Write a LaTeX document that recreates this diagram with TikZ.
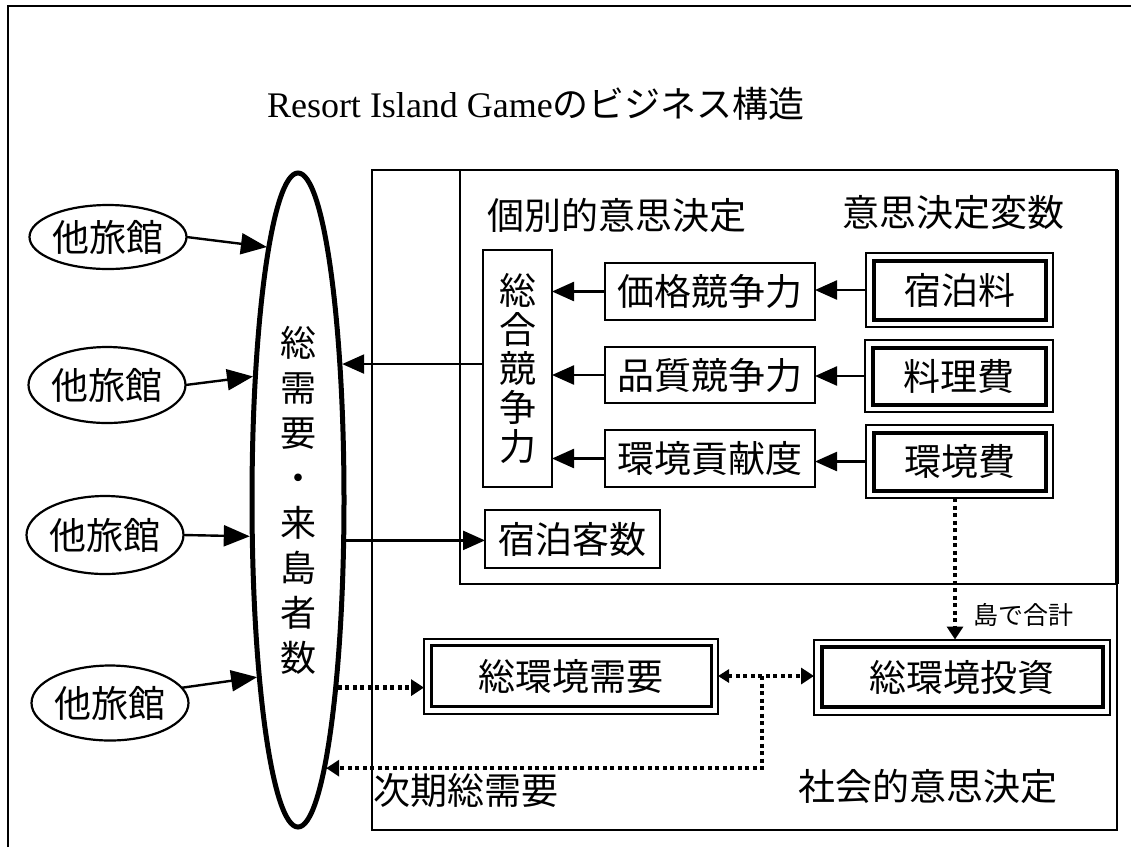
\documentclass[tikz,border=0pt]{standalone}
\usepackage{fontspec}
\setmainfont{Liberation Serif}
\newfontfamily\jp{Noto Sans CJK JP}
\usetikzlibrary{shapes.geometric,arrows.meta}
\begin{document}
\begin{tikzpicture}[x=1pt,y=1pt,
  every node/.style={inner sep=0pt, outer sep=0pt},
  jpf/.style={font=\jp\fontsize{37}{39}\selectfont},
  lbl/.style={jpf, anchor=west},
  sbox/.style={draw, line width=2.4pt, jpf, minimum width=210pt, minimum height=57pt},
  dbox/.style={draw, line width=2pt, jpf},
  other/.style={ellipse, draw, line width=2.2pt, jpf, minimum width=148pt, minimum height=74pt},
  arr/.style={line width=2.4pt, -{Triangle[length=22pt,width=19pt]}},
  oarr/.style={line width=2.4pt, -{Triangle[length=26pt,width=21pt]}},
  dl/.style={line width=4.2pt, dash pattern=on 4pt off 3.5pt},
  darr/.style={dl, -{Triangle[length=13pt,width=16pt]}},
]
\useasboundingbox (0,0) rectangle (1131,-847);
% frame
\draw[line width=2.4pt] (8,-847) -- (8,-6) -- (1131,-6);
% title
\node[anchor=west, font=\fontsize{36}{40}\selectfont] (title) at (267,-104) {Resort Island Game{\jp のビジネス構造}};
% big box and inner box
\draw[line width=2.4pt] (372,-170) rectangle (1117,-830);
\draw[line width=2.4pt] (460,-170) -- (460,-584) -- (1117,-584);
\draw[line width=4.5pt] (1117,-170) -- (1117,-584);
% labels
\node[lbl] (indiv) at (487,-215) {個別的意思決定};
\node[lbl] (vars) at (842,-213) {意思決定変数};
\node[lbl] (next) at (373,-790) {次期総需要};
\node[lbl] (social) at (798,-786) {社会的意思決定};
% main ellipse
\node[ellipse, draw, line width=5pt, outer sep=2.5pt, minimum width=92pt, minimum height=654pt,
  font=\jp\fontsize{36}{45}\selectfont, align=center] (main) at (298,-500)
  {総\\需\\要\\・\\来\\島\\者\\数};
% other inns
\node[other, minimum height=64pt] (o1) at (108,-237) {他旅館};
\node[other, minimum width=146pt, minimum height=76pt] (o2) at (107,-385) {他旅館};
\node[other, minimum width=145pt, minimum height=78pt] (o3) at (105,-535) {他旅館};
\node[other, minimum width=146pt, minimum height=75pt] (o4) at (110,-703) {他旅館};
% individual decision boxes
\node[draw, line width=2.4pt, minimum width=69pt, minimum height=237pt,
  font=\jp\fontsize{37}{39}\selectfont, align=center] (total) at (517.5,-368.5) {総\\合\\競\\争\\力};
\node[sbox] (price) at (710,-291.5) {価格競争力};
\node[sbox, minimum height=56pt] (quality) at (710,-375) {品質競争力};
\node[sbox] (envc) at (710,-458.5) {環境貢献度};
\node[draw, line width=2.4pt, jpf, minimum width=175pt, minimum height=58pt] (guests) at (572.5,-539) {宿泊客数};
% decision variables (double boxes)
\node[dbox, minimum width=187pt, minimum height=74pt] (fee) at (959.5,-290) {宿泊料};
\node[dbox, minimum width=188pt, minimum height=72pt] (food) at (959,-376) {料理費};
\node[dbox, minimum width=187pt, minimum height=73pt] (envf) at (959.5,-461.5) {環境費};
\node[dbox, minimum width=294pt, minimum height=75pt] (tenvd) at (571,-676) {総環境需要};
\node[dbox, minimum width=296pt, minimum height=75pt] (tenvi) at (962,-677) {総環境投資};
\foreach \n in {fee,food,envf,tenvi}
  \draw[line width=4pt] ([shift={(7.5,-7.5)}]\n.north west) rectangle ([shift={(-7.5,7.5)}]\n.south east);
\draw[line width=3pt] ([shift={(7,-7)}]tenvd.north west) rectangle ([shift={(-7,7)}]tenvd.south east);
% connectors: variables -> competitiveness
\draw[arr] (fee.west) -- (fee.west -| price.east);
\draw[arr] (food.west) -- (food.west -| quality.east);
\draw[arr] (envf.west) -- (envf.west -| envc.east);
\draw[arr] (price.west) -- (price.west -| total.east);
\draw[arr] (quality.west) -- (quality.west -| total.east);
\draw[arr] (envc.west) -- (envc.west -| total.east);
% total -> main, main -> guests
\draw[arr] (total.west |- main.72.8) -- (main.72.8);
\draw[arr] (main.320.3) -- (main.320.3 -| guests.west);
% other inns -> main
\draw[oarr] (o1.east) -- (main.97.2);
\draw[oarr] (o2.east) -- (main.110.5);
\draw[oarr] (o3.east) -- (main.217.4);
\draw[oarr] (o4.12) -- (main.257.7);
% social decision connectors
\draw[darr] (main.282.4) -- (main.282.4 -| tenvd.west);
\draw[dl, {Triangle[length=11pt,width=13pt]}-{Triangle[length=13pt,width=16pt]}] (tenvd.east) -- (tenvd.east -| tenvi.west);
\draw[darr] ([xshift=-4.5pt]envf.south) -- ([xshift=-4.5pt]envf.south |- tenvi.north);
\node[anchor=west, font=\jp\fontsize{25}{27}\selectfont] (sum) at (973,-615) {島で合計};
\coordinate (j) at (762,-676);
\draw[darr] (j) -- (j |- main.276.3) -- (main.276.3);
\end{tikzpicture}
\end{document}
